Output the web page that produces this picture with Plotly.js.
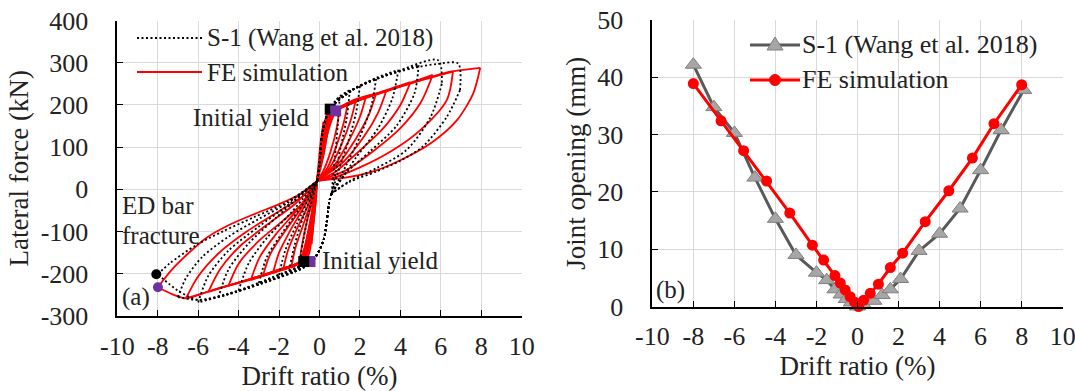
<!DOCTYPE html>
<html>
<head>
<meta charset="utf-8">
<script src="https://cdn.plot.ly/plotly-3.0.1.min.js"></script>
<style>body{margin:0}</style>
</head>
<body>
<div id="chart" style="width:1075px;height:391px"></div>
<script>
// ---------------- Panel (a): hysteresis, FE simulation (half cycles: drift %, force kN) ----------------
const fe_p1_x = [-0.12, 0.05, 0.2, 0.12, -0.02, -0.12];
const fe_p1_y = [20, 110, 160, 110, 60, 20];
const fe_n1_x = [-0.12, -0.25, -0.4, -0.3, -0.18, -0.12];
const fe_n1_y = [20, -60, -130, -80, -30, 20];
const fe_p2_x = [-0.12, 0.1, 0.35, 0.55, 0.4, 0.2, 0.0, -0.12];
const fe_p2_y = [20, 100, 175, 185, 135, 80, 40, 20];
const fe_n2_x = [-0.12, -0.3, -0.5, -0.7, -0.55, -0.35, -0.2, -0.12];
const fe_n2_y = [20, -70, -150, -168, -115, -60, -15, 20];
const fe_p3_x = [-0.12, 0.1, 0.4, 0.7, 1.0, 0.85, 0.55, 0.2, -0.12];
const fe_p3_y = [20, 105, 180, 190, 195, 145, 90, 45, 20];
const fe_n3_x = [-0.12, -0.3, -0.55, -0.8, -1.0, -0.85, -0.6, -0.3, -0.12];
const fe_n3_y = [20, -60, -145, -170, -178, -128, -72, -20, 20];
const fe_p4_x = [-0.12, 0.15, 0.45, 0.8, 1.15, 1.4, 1.2, 0.85, 0.4, -0.12];
const fe_p4_y = [20, 108, 178, 190, 198, 205, 158, 105, 52, 20];
const fe_n4_x = [-0.12, -0.32, -0.6, -0.85, -1.1, -1.4, -1.2, -0.85, -0.45, -0.12];
const fe_n4_y = [20, -60, -145, -171, -178, -186, -140, -90, -35, 20];
const fe_p5_x = [-0.12, 0.15, 0.5, 0.85, 1.35, 1.8, 1.55, 1.1, 0.55, -0.12];
const fe_p5_y = [20, 108, 178, 190, 203, 212, 165, 108, 55, 20];
const fe_n5_x = [-0.12, -0.33, -0.62, -0.88, -1.3, -1.8, -1.55, -1.1, -0.55, -0.12];
const fe_n5_y = [20, -60, -143, -171, -182, -191, -143, -92, -36, 20];
const fe_p6_x = [-0.12, 0.18, 0.55, 0.85, 1.55, 2.3, 2.0, 1.45, 0.75, -0.12];
const fe_p6_y = [20, 110, 176, 189, 207, 220, 172, 115, 58, 20];
const fe_n6_x = [-0.12, -0.35, -0.65, -0.9, -1.5, -2.3, -2.0, -1.45, -0.75, -0.12];
const fe_n6_y = [20, -60, -142, -171, -185, -198, -150, -98, -40, 20];
const fe_p7_x = [-0.12, 0.2, 0.55, 0.88, 1.75, 2.8, 2.45, 1.8, 0.95, -0.12];
const fe_p7_y = [20, 112, 175, 189, 211, 227, 178, 120, 62, 20];
const fe_n7_x = [-0.12, -0.35, -0.68, -0.92, -1.7, -2.8, -2.45, -1.75, -0.9, -0.12];
const fe_n7_y = [20, -60, -142, -171, -188, -205, -155, -102, -44, 20];
const fe_p8_x = [-0.12, 0.2, 0.6, 0.9, 2.0, 3.3, 2.9, 2.2, 1.2, -0.12];
const fe_p8_y = [20, 112, 175, 189, 215, 233, 182, 125, 66, 20];
const fe_n8_x = [-0.12, -0.36, -0.7, -0.95, -2.0, -3.4, -2.95, -2.15, -1.1, -0.12];
const fe_n8_y = [20, -60, -142, -172, -192, -215, -160, -106, -48, 20];
const fe_p9_x = [-0.12, 0.22, 0.62, 0.92, 1.7, 3.0, 4.5, 4.0, 3.1, 1.9, 0.8, -0.12];
const fe_p9_y = [20, 113, 175, 190, 206, 230, 254, 200, 142, 88, 42, 20];
const fe_n9_x = [-0.12, -0.37, -0.72, -0.97, -1.8, -3.0, -4.5, -4.0, -3.0, -1.8, -0.7, -0.12];
const fe_n9_y = [20, -60, -142, -172, -188, -208, -228, -176, -122, -74, -26, 20];
const fe_p10_x = [-0.12, 0.25, 0.65, 0.95, 1.8, 3.4, 5.6, 5.0, 4.0, 2.7, 1.3, -0.12];
const fe_p10_y = [20, 114, 175, 190, 208, 234, 271, 205, 145, 92, 45, 20];
const fe_n10_x = [-0.12, -0.38, -0.74, -0.98, -2.0, -3.6, -5.5, -4.9, -3.9, -2.6, -1.2, -0.12];
const fe_n10_y = [20, -60, -142, -172, -190, -215, -243, -188, -133, -84, -34, 20];
const fe_p11_x = [-0.12, 0.27, 0.68, 0.96, 1.8, 3.5, 5.3, 6.6, 6.3, 5.0, 3.6, 2.0, 0.7, -0.12];
const fe_p11_y = [20, 115, 175, 190, 208, 236, 262, 279, 212, 141, 92, 52, 28, 20];
const fe_n11_x = [-0.12, -0.39, -0.75, -1.0, -2.0, -3.6, -5.3, -6.6, -6.0, -5.0, -3.6, -2.0, -0.7, -0.12];
const fe_n11_y = [20, -60, -142, -172, -190, -215, -239, -258, -206, -152, -100, -52, -12, 20];
const fe_p12_x = [-0.12, 0.3, 0.7, 0.97, 1.7, 3.2, 4.8, 6.4, 7.95, 7.6, 6.8, 5.5, 4.0, 2.5, 1.2, -0.12];
const fe_p12_y = [20, 115, 175, 190, 212, 232, 255, 278, 288, 227, 164, 109, 69, 40, 27, 20];
const fe_n12_x = [-0.12, -0.4, -0.76, -1.0, -2.0, -3.6, -5.3, -6.6, -7.3, -8.0, -7.3, -6.5, -5.6, -4.5, -3.2, -2.0, -1.0, -0.12];
const fe_n12_y = [20, -60, -142, -172, -191, -215, -239, -258, -248, -232, -190, -152, -115, -85, -58, -35, -12, 20];

// ---------------- Panel (a): hysteresis, test S-1 (Wang et al. 2018) ----------------
const t_p1_x = [-0.1, 0.0, 0.15, 0.5, 0.8, 1.0, 0.9, 0.75, 0.6];
const t_p1_y = [20, 60, 135, 190, 210, 219, 150, 70, -10];
const t_n1_x = [0.6, 0.5, 0.2, -0.3, -0.7, -1.0, -0.8, -0.5, -0.1];
const t_n1_y = [-10, -25, -120, -167, -176, -180, -120, -50, 20];
const t_p2_x = [-0.1, 0.0, 0.15, 0.5, 1.0, 1.5, 1.35, 1.05, 0.8, 0.6];
const t_p2_y = [20, 60, 135, 190, 220, 235, 170, 100, 40, -10];
const t_n2_x = [0.6, 0.5, 0.2, -0.3, -0.8, -1.5, -1.25, -0.8, -0.1];
const t_n2_y = [-10, -25, -120, -167, -178, -193, -135, -65, 20];
const t_p3_x = [-0.1, 0.0, 0.15, 0.5, 1.2, 2.0, 1.8, 1.4, 0.95, 0.6];
const t_p3_y = [20, 60, 135, 190, 225, 245, 180, 110, 45, -10];
const t_n3_x = [0.6, 0.5, 0.2, -0.3, -0.8, -1.3, -2.0, -1.7, -1.1, -0.1];
const t_n3_y = [-10, -25, -120, -167, -178, -190, -203, -145, -80, 20];
const t_p4_x = [-0.1, 0.0, 0.15, 0.5, 1.5, 2.8, 2.55, 2.0, 1.3, 0.6];
const t_p4_y = [20, 60, 135, 190, 232, 262, 195, 125, 55, -10];
const t_n4_x = [0.6, 0.5, 0.2, -0.3, -0.8, -1.8, -3.0, -2.6, -1.8, -0.9, -0.1];
const t_n4_y = [-10, -25, -120, -167, -180, -198, -222, -160, -100, -40, 20];
const t_p5_x = [-0.1, 0.0, 0.15, 0.5, 1.6, 2.8, 3.9, 3.6, 2.9, 1.8, 0.6];
const t_p5_y = [20, 60, 135, 190, 235, 264, 283, 215, 145, 75, -10];
const t_n5_x = [0.6, 0.5, 0.2, -0.3, -0.8, -2.3, -4.0, -3.5, -2.6, -1.4, -0.1];
const t_n5_y = [-10, -25, -120, -167, -182, -208, -240, -175, -115, -55, 20];
const t_p6_x = [-0.1, 0.0, 0.15, 0.5, 1.7, 3.3, 4.9, 4.7, 3.8, 2.5, 1.3, 0.6];
const t_p6_y = [20, 60, 135, 190, 237, 270, 294, 228, 150, 90, 38, -10];
const t_n6_x = [0.6, 0.5, 0.2, -0.3, -0.8, -2.5, -5.0, -4.5, -3.5, -2.1, -0.1];
const t_n6_y = [-10, -25, -120, -167, -184, -215, -256, -190, -128, -65, 20];
const t_p7_x = [-0.1, 0.0, 0.15, 0.5, 1.8, 3.6, 5.87, 6.05, 5.5, 4.3, 2.8, 1.5, 0.6];
const t_p7_y = [20, 60, 135, 190, 240, 275, 306, 250, 172, 93, 50, 20, -10];
const t_n7_x = [0.6, 0.5, 0.2, -0.3, -0.8, -2.8, -4.5, -6.0, -5.5, -4.5, -3.0, -1.5, -0.1];
const t_n7_y = [-10, -25, -120, -167, -185, -222, -248, -268, -205, -145, -88, -35, 20];
const t_p8_x = [-0.1, 0.0, 0.15, 0.5, 1.8, 3.0, 4.6, 5.8, 6.86, 6.95, 6.3, 5.1, 4.0, 2.8, 1.5, 0.6];
const t_p8_y = [20, 60, 135, 190, 240, 265, 287, 297, 298, 235, 172, 101, 68, 42, 18, -10];
const t_n8_x = [0.6, 0.5, 0.2, -0.3, -0.8, -2.8, -4.6, -6.0, -7.0, -6.6, -5.8, -4.5, -3.0, -1.5, -0.1];
const t_n8_y = [-10, -25, -120, -167, -186, -222, -250, -262, -255, -210, -160, -112, -70, -30, 20];
const t_n9_x = [0.6, 0.5, 0.2, -0.3, -0.8, -2.8, -4.6, -6.0, -7.0, -8.0, -7.4, -6.1, -4.8, -3.2, -1.6, -0.1];
const t_n9_y = [-10, -25, -120, -167, -186, -222, -248, -262, -240, -201, -175, -132, -100, -65, -30, 20];

// Key points (drawing order: top test, top FE, bottom FE, bottom test)
const yield_x = [0.53, 0.8, -0.47, -0.78];
const yield_y = [190, 186, -171, -171];
const yield_color = ['#000000', '#7030a0', '#7030a0', '#000000'];
const fracture_x = [-8.07, -7.99];
const fracture_y = [-201, -232];
const fracture_color = ['#000000', '#7030a0'];

// ---------------- Panel (b): joint opening ----------------
const s1_drift = [-8, -7, -6, -5, -4, -3, -2, -1.5, -1.1, -0.8, -0.55, -0.3, 0, 0.3, 0.8, 1.2, 1.6, 2.1, 3.0, 4.0, 5.0, 6.0, 7.0, 8.1];
const s1_open  = [42.2, 34.8, 30.3, 22.5, 15.3, 9.0, 5.9, 4.6, 3.0, 2.1, 1.3, 0.7, 0, 0.3, 1.0, 2.0, 3.0, 4.8, 9.7, 12.7, 17.1, 23.8, 30.8, 37.8];
const fe_drift = [-8, -6.65, -5.55, -4.43, -3.3, -2.2, -1.65, -1.1, -0.84, -0.6, -0.36, -0.15, 0.05, 0.3, 0.62, 1.02, 1.6, 2.2, 3.3, 4.45, 5.6, 6.65, 8.0];
const fe_open  = [38.9, 32.4, 27.2, 21.9, 16.3, 10.7, 8.1, 5.4, 4.1, 2.9, 1.7, 0.8, 0, 1.1, 2.3, 3.9, 6.8, 9.3, 14.8, 20.2, 25.9, 31.9, 38.7];

// Tick labels
const xTickVals = [-10, -8, -6, -4, -2, 0, 2, 4, 6, 8, 10];
const xTickText = ['-10', '-8', '-6', '-4', '-2', '0', '2', '4', '6', '8', '10'];
const yaTickVals = [-300, -200, -100, 0, 100, 200, 300, 400];
const yaTickText = ['-300', '-200', '-100', '0', '100', '200', '300', '400'];
const ybTickVals = [0, 10, 20, 30, 40, 50];
const ybTickText = ['0', '10', '20', '30', '40', '50'];

// ---------------- build ----------------
const feHalves = [
  [fe_p1_x, fe_p1_y], [fe_n1_x, fe_n1_y], [fe_p2_x, fe_p2_y], [fe_n2_x, fe_n2_y],
  [fe_p3_x, fe_p3_y], [fe_n3_x, fe_n3_y], [fe_p4_x, fe_p4_y], [fe_n4_x, fe_n4_y],
  [fe_p5_x, fe_p5_y], [fe_n5_x, fe_n5_y], [fe_p6_x, fe_p6_y], [fe_n6_x, fe_n6_y],
  [fe_p7_x, fe_p7_y], [fe_n7_x, fe_n7_y], [fe_p8_x, fe_p8_y], [fe_n8_x, fe_n8_y],
  [fe_p9_x, fe_p9_y], [fe_n9_x, fe_n9_y], [fe_p10_x, fe_p10_y], [fe_n10_x, fe_n10_y],
  [fe_p11_x, fe_p11_y], [fe_n11_x, fe_n11_y], [fe_p12_x, fe_p12_y], [fe_n12_x, fe_n12_y]
];
const testHalves = [
  [t_p1_x, t_p1_y], [t_n1_x, t_n1_y], [t_p2_x, t_p2_y], [t_n2_x, t_n2_y],
  [t_p3_x, t_p3_y], [t_n3_x, t_n3_y], [t_p4_x, t_p4_y], [t_n4_x, t_n4_y],
  [t_p5_x, t_p5_y], [t_n5_x, t_n5_y], [t_p6_x, t_p6_y], [t_n6_x, t_n6_y],
  [t_p7_x, t_p7_y], [t_n7_x, t_n7_y], [t_p8_x, t_p8_y], [t_n8_x, t_n8_y],
  [t_n9_x, t_n9_y]
];
// split each half cycle at its peak drift so the tips stay sharp; branches separated by gaps
function branches(halves) {
  const X = [], Y = [];
  halves.forEach(([hx, hy]) => {
    let k = 0;
    hx.forEach((v, i) => { if (Math.abs(v) > Math.abs(hx[k])) k = i; });
    for (let i = 0; i <= k; i++) { X.push(hx[i]); Y.push(hy[i]); }
    X.push(null); Y.push(null);
    for (let i = k; i < hx.length; i++) { X.push(hx[i]); Y.push(hy[i]); }
    X.push(null); Y.push(null);
  });
  return [X, Y];
}
const [tX, tY] = branches(testHalves);
const [fX, fY] = branches(feHalves);

const SERIF = 'Liberation Serif';
const TXT = '#222222';
const W = 1075, H = 391;
const PX = v => v / W, PY = v => 1 - v / H;

const traces = [
  {x: fX, y: fY, xaxis: 'x', yaxis: 'y', mode: 'lines', connectgaps: false,
   line: {color: '#ff0000', width: 1.8, shape: 'spline', smoothing: 0.8},
   name: 'FE simulation', showlegend: false, hoverinfo: 'skip'},
  {x: tX, y: tY, xaxis: 'x', yaxis: 'y', mode: 'lines', connectgaps: false,
   line: {color: '#000000', width: 1.8, dash: '2px,2.5px', shape: 'spline', smoothing: 0.8},
   name: 'S-1 (Wang et al. 2018)', showlegend: false, hoverinfo: 'skip'},
  {x: yield_x, y: yield_y, xaxis: 'x', yaxis: 'y', mode: 'markers', cliponaxis: false,
   marker: {symbol: 'square', size: 11, color: yield_color}, showlegend: false, hoverinfo: 'skip'},
  {x: fracture_x, y: fracture_y, xaxis: 'x', yaxis: 'y', mode: 'markers', cliponaxis: false,
   marker: {symbol: 'circle', size: 10, color: fracture_color}, showlegend: false, hoverinfo: 'skip'},
  {x: s1_drift, y: s1_open, xaxis: 'x2', yaxis: 'y2', mode: 'lines+markers', cliponaxis: false,
   line: {color: '#595959', width: 3},
   marker: {symbol: 'triangle-up', size: 14, color: '#a6a6a6', line: {color: '#7f7f7f', width: 1}},
   name: 'S-1 (Wang et al. 2018)', showlegend: false},
  {x: fe_drift, y: fe_open, xaxis: 'x2', yaxis: 'y2', mode: 'lines+markers', cliponaxis: false,
   line: {color: '#ff0000', width: 3},
   marker: {symbol: 'circle', size: 11, color: '#ff0000'},
   name: 'FE simulation', showlegend: false}
];

function xAxis(domain, anchor) {
  return {domain: domain, anchor: anchor, range: [-10, 10], tickvals: xTickVals, ticktext: xTickText,
    showgrid: true, gridcolor: '#d9d9d9', gridwidth: 1.3, zeroline: false,
    showline: true, linecolor: '#000', linewidth: 1.5, ticks: 'inside', ticklen: 6, tickwidth: 1.3, tickcolor: '#000',
    tickfont: {family: SERIF, size: 26, color: TXT}, ticklabelstandoff: 6, ticklabeloverflow: 'allow',
    title: {text: 'Drift ratio (%)', font: {family: SERIF, size: 27, color: TXT}, standoff: 0}};
}
function yAxis(domain, anchor, range, vals, text, title, standoff) {
  return {domain: domain, anchor: anchor, range: range, tickvals: vals, ticktext: text,
    showgrid: true, gridcolor: '#d9d9d9', gridwidth: 1.3, zeroline: false,
    showline: true, linecolor: '#000', linewidth: 1.5, ticks: 'inside', ticklen: 6, tickwidth: 1.3, tickcolor: '#000',
    tickfont: {family: SERIF, size: 26, color: TXT}, ticklabelstandoff: 22,
    title: {text: title, font: {family: SERIF, size: 27, color: TXT}, standoff: standoff}};
}

const ann = (text, x, y, size) => ({text: text, xref: 'paper', yref: 'paper', x: PX(x), y: PY(y),
  xanchor: 'left', yanchor: 'middle', showarrow: false, font: {family: SERIF, size: size, color: TXT}});

const layout = {
  width: W, height: H, margin: {l: 0, r: 0, t: 0, b: 0},
  font: {family: SERIF, color: TXT},
  paper_bgcolor: '#fff', plot_bgcolor: '#fff', showlegend: false,
  xaxis: xAxis([PX(117.3), PX(521.7)], 'y'),
  yaxis: yAxis([PY(316), PY(20.5)], 'x', [-300, 400], yaTickVals, yaTickText, 'Lateral force (kN)', 4),
  xaxis2: xAxis([PX(652.3), PX(1062.7)], 'y2'),
  yaxis2: yAxis([PY(306.5), PY(20)], 'x2', [0, 50], ybTickVals, ybTickText, 'Joint opening (mm)', 4),
  annotations: [
    ann('S-1 (Wang et al. 2018)', 205, 38, 25),
    ann('FE simulation', 205, 72, 25),
    ann('Initial yield', 191, 118, 25),
    ann('Initial yield', 320, 260, 25),
    ann('ED bar', 120, 205, 25),
    ann('fracture', 120, 236, 25),
    ann('(a)', 120, 297, 25),
    ann('S-1 (Wang et al. 2018)', 800, 45, 26),
    ann('FE simulation', 800, 80, 26),
    ann('(b)', 654, 290, 25)
  ],
  shapes: [
    {type: 'line', xref: 'paper', yref: 'paper', x0: PX(137), x1: PX(202), y0: PY(38), y1: PY(38),
     line: {color: '#000', width: 1.8, dash: '2px,2.5px'}},
    {type: 'line', xref: 'paper', yref: 'paper', x0: PX(137), x1: PX(202), y0: PY(72), y1: PY(72),
     line: {color: '#ff0000', width: 2}},
    {type: 'line', xref: 'paper', yref: 'paper', x0: PX(750), x1: PX(800), y0: PY(45), y1: PY(45),
     line: {color: '#595959', width: 3}},
    {type: 'path', xref: 'paper', yref: 'paper',
     path: 'M' + PX(775) + ',' + PY(37) + ' L' + PX(767) + ',' + PY(50) + ' L' + PX(783) + ',' + PY(50) + ' Z',
     fillcolor: '#a6a6a6', line: {color: '#7f7f7f', width: 1}},
    {type: 'line', xref: 'paper', yref: 'paper', x0: PX(750), x1: PX(800), y0: PY(80), y1: PY(80),
     line: {color: '#ff0000', width: 3}},
    {type: 'circle', xref: 'paper', yref: 'paper', x0: PX(769.5), x1: PX(780.5), y0: PY(85.5), y1: PY(74.5),
     fillcolor: '#ff0000', line: {color: '#ff0000', width: 1}}
  ]
};

Plotly.newPlot('chart', traces, layout, {displayModeBar: false});
</script>
</body>
</html>
